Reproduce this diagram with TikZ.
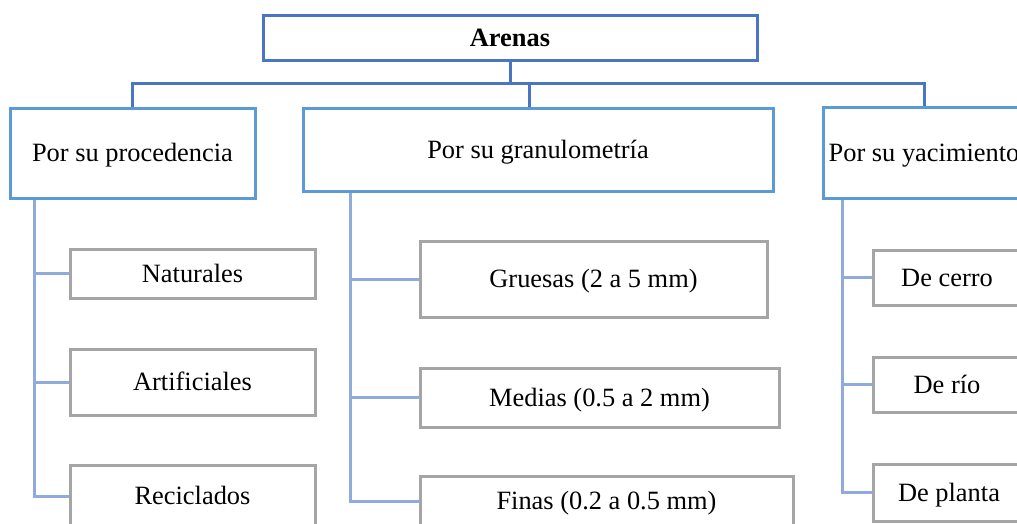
\documentclass[tikz,border=0pt]{standalone}
\usepackage{fontspec}
\setmainfont{Liberation Serif}
\definecolor{topblue}{HTML}{4A74C4}
\definecolor{midblue}{HTML}{5B9BD5}
\definecolor{linkblue}{HTML}{8FAADC}
\definecolor{boxgray}{HTML}{A5A5A5}
\tikzset{
  base/.style={rectangle, inner sep=0pt, align=center, fill=white,
    text height=17pt, text depth=0pt,
    font=\fontsize{26.4}{30}\selectfont, line width=3pt},
  rootbox/.style={base, draw=topblue, font=\fontsize{26.4}{30}\selectfont\bfseries},
  groupbox/.style={base, draw=midblue},
  leafbox/.style={base, draw=boxgray},
  toplink/.style={draw=topblue, line width=3pt},
  sublink/.style={draw=linkblue, line width=3pt},
}
\begin{document}
\begin{tikzpicture}[x=1pt, y=-1pt]
\useasboundingbox (0,0) rectangle (1017,523);
\clip (0,0) rectangle (1017,523);

% root
\node[rootbox, minimum width=494pt, minimum height=45pt] (arenas) at (510,37.5) {Arenas};

% criteria
\node[groupbox, minimum width=245pt, minimum height=90pt] (proc) at (132.5,153) {Por su procedencia};
\node[groupbox, minimum width=470pt, minimum height=83pt] (granu) at (538,149.5) {Por su granulometría};
\node[groupbox, minimum width=202pt, minimum height=91pt] (yac) at (924,152.5) {Por su yacimiento};

% by origin
\node[leafbox, minimum width=245pt, minimum height=49pt] (nat) at (192.5,273.5) {Naturales};
\node[leafbox, minimum width=245pt, minimum height=66pt] (art) at (192.5,382) {Artificiales};
\node[leafbox, minimum width=245pt, minimum height=62pt] (rec) at (192.5,496) {Reciclados};

% by grain size
\node[leafbox, minimum width=347pt, minimum height=76pt] (grue) at (593.5,279) {Gruesas (2 a 5 mm)};
\node[leafbox, minimum width=359pt, minimum height=59pt] (med) at (599.5,397.5) {Medias (0.5 a 2 mm)};
\node[leafbox, minimum width=373pt, minimum height=50pt] (fin) at (606.5,501) {Finas (0.2 a 0.5 mm)};

% by deposit
\node[leafbox, minimum width=148pt, minimum height=55pt] (cerro) at (947,277.5) {De cerro};
\node[leafbox, minimum width=148pt, minimum height=55pt] (rio) at (947,384.5) {De río};
\node[leafbox, minimum width=152pt, minimum height=57pt] (planta) at (949,492.5) {De planta};

% root to criteria
\coordinate (hub) at (510,83);
\draw[toplink] (arenas.south) -- (hub);
\draw[toplink] (proc.north) |- (hub) -| (yac.north);
\draw[toplink] ([xshift=-9pt]granu.north) -- ([xshift=-9pt]granu.north |- hub);

% criteria to leaves
\coordinate (pv) at ([xshift=26pt]proc.south west);
\draw[sublink] (pv) |- (rec.west);
\draw[sublink] (pv |- nat.west) -- (nat.west);
\draw[sublink] (pv |- art.west) -- (art.west);

\coordinate (gv) at ([xshift=49pt]granu.south west);
\draw[sublink] (gv) |- (fin.west);
\draw[sublink] (gv |- grue.west) -- (grue.west);
\draw[sublink] (gv |- med.west) -- (med.west);

\coordinate (yv) at ([xshift=21pt]yac.south west);
\draw[sublink] (yv) |- (planta.west);
\draw[sublink] (yv |- cerro.west) -- (cerro.west);
\draw[sublink] (yv |- rio.west) -- (rio.west);
\end{tikzpicture}
\end{document}
